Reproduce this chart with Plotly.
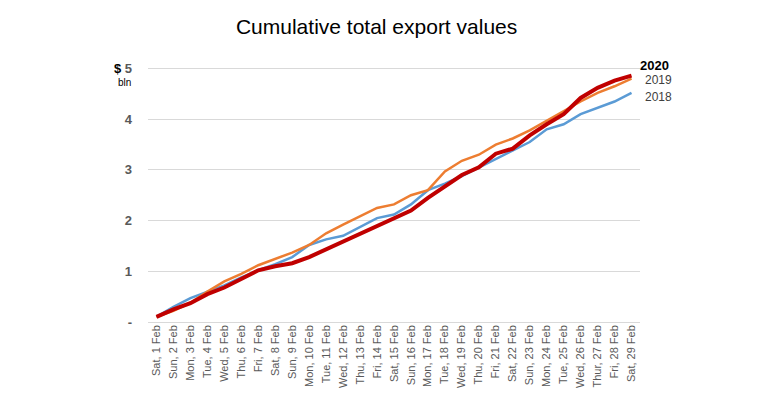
import plotly.graph_objects as go

days = ["Sat, 1 Feb", "Sun, 2 Feb", "Mon, 3 Feb", "Tue, 4 Feb", "Wed, 5 Feb", "Thu, 6 Feb",
        "Fri, 7 Feb", "Sat, 8 Feb", "Sun, 9 Feb", "Mon, 10 Feb", "Tue, 11 Feb", "Wed, 12 Feb",
        "Thu, 13 Feb", "Fri, 14 Feb", "Sat, 15 Feb", "Sun, 16 Feb", "Mon, 17 Feb", "Tue, 18 Feb",
        "Wed, 19 Feb", "Thu, 20 Feb", "Fri, 21 Feb", "Sat, 22 Feb", "Sun, 23 Feb", "Mon, 24 Feb",
        "Tue, 25 Feb", "Wed, 26 Feb", "Thur, 27 Feb", "Fri, 28 Feb", "Sat, 29 Feb"]

v2018 = [0.10, 0.30, 0.47, 0.60, 0.72, 0.88, 1.02, 1.14, 1.28, 1.52, 1.63, 1.70, 1.88, 2.05,
         2.12, 2.32, 2.60, 2.73, 2.88, 3.05, 3.22, 3.38, 3.55, 3.80, 3.90, 4.10, 4.22, 4.35, 4.52]
v2019 = [0.10, 0.22, 0.38, 0.60, 0.80, 0.95, 1.12, 1.25, 1.37, 1.52, 1.75, 1.92, 2.08, 2.25,
         2.32, 2.50, 2.60, 2.97, 3.18, 3.30, 3.50, 3.62, 3.78, 3.97, 4.15, 4.35, 4.52, 4.65, 4.80]
v2020 = [0.10, 0.25, 0.37, 0.55, 0.68, 0.86, 1.02, 1.10, 1.16, 1.28, 1.43, 1.58, 1.73, 1.88,
         2.03, 2.20, 2.45, 2.68, 2.90, 3.05, 3.32, 3.42, 3.68, 3.90, 4.10, 4.42, 4.62, 4.76, 4.86]

ytick_vals = [0, 1, 2, 3, 4, 5]
ytick_text = ["<b>-</b>", "<b>1</b>", "<b>2</b>", "<b>3</b>", "<b>4</b>",
              "<b><span style='color:#000'>$</span> 5</b>"]

YMAX = 5.05

fig = go.Figure()
fig.add_trace(go.Scatter(x=days, y=v2018, mode="lines", name="2018",
                         line=dict(color="#5B9BD5", width=2.5)))
fig.add_trace(go.Scatter(x=days, y=v2019, mode="lines", name="2019",
                         line=dict(color="#ED7D31", width=2.5)))
fig.add_trace(go.Scatter(x=days, y=v2020, mode="lines", name="2020",
                         line=dict(color="#C00000", width=4)))

fig.update_layout(
    width=760, height=396,
    margin=dict(l=140, r=128, t=58, b=82, autoexpand=False),
    paper_bgcolor="white", plot_bgcolor="white",
    showlegend=False,
    font=dict(family="Liberation Sans, Arial, sans-serif", color="#595959"),
    title=dict(text="Cumulative total export values", x=0.485, xanchor="center",
               xref="container", yref="container", y=0.952, yanchor="middle",
               font=dict(size=21, color="#000000", family="Liberation Sans, Arial")),
)
fig.update_xaxes(type="category", range=[-0.5, 28.5], showgrid=False, zeroline=False,
                 tickangle=-90, tickfont=dict(size=11, color="#595959"),
                 showline=False, ticks="", automargin=False)
fig.update_yaxes(range=[0, YMAX], tickvals=ytick_vals, ticktext=ytick_text,
                 showgrid=True, gridcolor="#D9D9D9", gridwidth=1,
                 zeroline=True, zerolinecolor="#D9D9D9", zerolinewidth=1,
                 tickfont=dict(size=13, color="#595959", family="Liberation Sans, Arial"),
                 ticklabelstandoff=15, ticks="", automargin=False)

# "bln" unit label
fig.add_annotation(x=0, xref="paper", xanchor="right", xshift=-15, y=4.72 / YMAX, yref="paper",
                   yanchor="middle", text="bln", showarrow=False,
                   font=dict(size=10, color="#000000"))

# Series labels on the right
labels = [("<b>2020</b>", 5.06, -2, 13, "#000000"),
          ("2019", 4.78, 3, 12, "#404040"),
          ("2018", 4.43, 3, 12, "#404040")]
for txt, yv, xs, sz, col in labels:
    fig.add_annotation(x=1, xref="paper", xanchor="left", xshift=xs, y=yv / YMAX, yref="paper",
                       yanchor="middle", text=txt, showarrow=False,
                       font=dict(size=sz, color=col))

fig.write_html("out.html")
